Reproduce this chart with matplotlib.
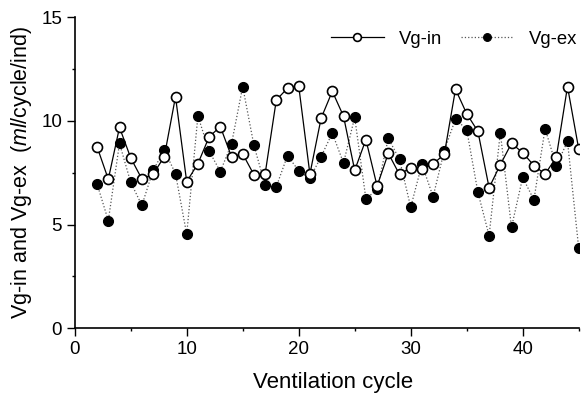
import matplotlib
matplotlib.use("Agg")
import matplotlib.pyplot as plt
from matplotlib.ticker import MultipleLocator

plt.rcParams['font.family'] = ['Liberation Sans', 'DejaVu Sans']
plt.rcParams['mathtext.fontset'] = 'custom'
plt.rcParams['mathtext.it'] = 'Liberation Sans:italic'
plt.rcParams['mathtext.rm'] = 'Liberation Sans'

cycle = list(range(2, 46))
vg_in = [8.75, 7.19, 9.69, 8.22, 7.20, 7.43, 8.28, 11.17, 7.07, 7.94,
         9.23, 9.73, 8.28, 8.41, 7.41, 7.44, 11.01, 11.58, 11.69, 7.44,
         10.13, 11.43, 10.23, 7.62, 9.10, 6.86, 8.44, 7.42, 7.75, 7.68,
         7.93, 8.39, 11.53, 10.35, 9.50, 6.78, 7.89, 8.92, 8.47, 7.85,
         7.44, 8.25, 11.66, 8.65]
vg_ex = [6.96, 5.19, 8.92, 7.04, 5.93, 7.62, 8.59, 7.46, 4.53, 10.24,
         8.55, 7.56, 8.89, 11.66, 8.83, 6.91, 6.83, 8.33, 7.60, 7.23,
         8.28, 9.42, 7.97, 10.18, 6.24, 6.70, 9.16, 8.15, 5.84, 7.91,
         6.35, 8.57, 10.10, 9.58, 6.56, 4.47, 9.44, 4.87, 7.28, 6.19,
         9.63, 7.83, 9.02, 3.86]

W, H = 586, 398
left_px, right_px, top_px, bottom_px = 74.7, 578.7, 17.3, 328.3
fig = plt.figure(figsize=(W / 100, H / 100), dpi=100)
ax = fig.add_axes([left_px / W, 1 - bottom_px / H,
                   (right_px - left_px) / W, (bottom_px - top_px) / H])

ax.plot(cycle, vg_ex, linestyle=':', color='#555555', linewidth=0.9,
        marker='o', markersize=7.2, markerfacecolor='black',
        markeredgecolor='black', markeredgewidth=0.8, label='Vg-ex', zorder=2)
ax.plot(cycle, vg_in, linestyle='-', color='black', linewidth=0.9,
        marker='o', markersize=7.2, markerfacecolor='white',
        markeredgecolor='black', markeredgewidth=1.2, label='Vg-in', zorder=3)

ax.set_xlim(0, 45)
ax.set_ylim(0, 15)
ax.xaxis.set_major_locator(MultipleLocator(10))
ax.xaxis.set_minor_locator(MultipleLocator(5))
ax.yaxis.set_major_locator(MultipleLocator(5))
ax.yaxis.set_minor_locator(MultipleLocator(2.5))
ax.tick_params(which='major', direction='out', length=5.5, width=1, labelsize=13.5)
ax.tick_params(which='minor', direction='out', length=2.5, width=1)
for s in ['top', 'right']:
    ax.spines[s].set_visible(False)
for s in ['left', 'bottom']:
    ax.spines[s].set_linewidth(1.2)

ax.set_xlabel('Ventilation cycle', fontsize=16)
ax.set_ylabel(r'Vg-in and Vg-ex  ($\it{ml}$/cycle/ind)', fontsize=15.5)
aw = right_px - left_px
ah = bottom_px - top_px
ax.xaxis.set_label_coords(0.5 + (333 - (left_px + right_px) / 2) / aw, -(372 - bottom_px) / ah)
ax.yaxis.set_label_coords(-(left_px - 34) / aw, 0.5 + ((top_px + bottom_px) / 2 - 172) / ah)

h, l = ax.get_legend_handles_labels()
leg = ax.legend([h[1], h[0]], [l[1], l[0]], loc='upper right', ncol=2,
                frameon=False, fontsize=13.3, handlelength=2.9, markerscale=0.78,
                columnspacing=1.0, handletextpad=0.8, borderaxespad=0.0,
                bbox_to_anchor=(1.0 + 6 / aw, 1.0 - 6 / ah))

fig.savefig('out.png', dpi=100)
